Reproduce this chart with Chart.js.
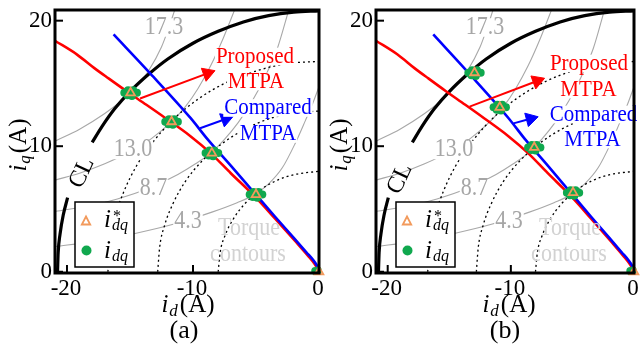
<!DOCTYPE html>
<html>
<head>
<meta charset="utf-8">
<script src="https://cdn.jsdelivr.net/npm/chart.js@4.4.0/dist/chart.umd.min.js"></script>
<style>
  html, body { margin: 0; padding: 0; background: #fff; }
  #wrap { position: relative; width: 643px; height: 346px; overflow: hidden; }
  #cA { position: absolute; left: 0; top: 0; }
  #cB { position: absolute; left: 321px; top: 0; }
</style>
</head>
<body>
<div id="wrap">
  <canvas id="cA" width="336" height="346" style="width:336px;height:346px"></canvas>
  <canvas id="cB" width="322" height="346" style="width:322px;height:346px"></canvas>
</div>
<script>
// tick sumbu
const xTicks = [-20, -10, 0];
const yTicks = [0, 10, 20];

// kurva yang sama di kedua panel, [id, iq] dalam A
const proposedMTPA = [[-20.95, 18.4], [-19.2, 17.3], [-17.8, 16.2], [-16.7, 15.4], [-15.3, 14.4], [-13.7, 13.3],
  [-12.2, 12.25], [-10.2, 10.8], [-8.6, 9.45], [-7, 7.85], [-5.1, 6.0], [-3.5, 4.25], [-1.9, 2.45],
  [-0.9, 1.3], [-0.3, 0.55], [0, 0]];
const comparedMTPA = [[-16.3, 18.9], [-13.4, 15.8], [-10.2, 12.25], [-8.8, 10.5], [-7, 8.45], [-5.1, 6.25],
  [-3.5, 4.4], [-2.0, 2.7], [-1.0, 1.55], [-0.4, 0.85], [-0.1, 0.35], [0, 0]];
// current limit (CL), ada celah untuk label
const currentLimit = [[-20.75, 0], [-20.7, 1.5], [-20.55, 3], [-20.3, 4.5], [-19.95, 5.9], [-19.0, null],
  [-18.0, 10.3], [-17.2, 11.6], [-16.2, 13.0], [-15.0, 14.35], [-13.5, 15.75], [-12.0, 16.95], [-10.0, 18.2],
  [-8.0, 19.15], [-6.0, 19.9], [-4.0, 20.4], [-2.0, 20.68], [0, 20.78]];
// lingkaran arus (titik-titik)
const circle1 = [[-16.75, 0], [-16.6, 2.2], [-16.2, 4.3], [-15.5, 6.35], [-14.5, 8.4], [-13.2, 10.3], [-11.6, 12.1],
  [-9.6, 13.75], [-7.3, 15.1], [-4.8, 16.05], [-2.4, 16.6], [0, 16.75]];
const circle2 = [[-12.8, 0], [-12.65, 1.9], [-12.25, 3.7], [-11.6, 5.4], [-10.6, 7.2], [-9.3, 8.8], [-7.7, 10.2],
  [-5.8, 11.4], [-3.9, 12.2], [-1.9, 12.65], [0, 12.8]];
const circle3 = [[-8, 0], [-7.85, 1.5], [-7.45, 2.9], [-6.8, 4.2], [-5.9, 5.4], [-4.75, 6.45], [-3.4, 7.25],
  [-1.9, 7.75], [0, 8.0]];
// kontur torsi 17.3 / 13.0 / 8.7 / 4.3
const torque173 = [[-20.95, 10.4], [-19, 11.35], [-17, 12.6], [-15.7, 13.6], [-15, 14.25], [-14.3, 15.0],
  [-13.5, 16.05], [-12.5, 17.9], [-11.9, 19.5], [-11.45, 20.85]];
const torque130 = [[-20.95, 7.3], [-19, 7.85], [-17, 8.6], [-15, 9.55], [-13.3, 10.6], [-11.7, 11.95],
  [-10.6, 13.15], [-9.6, 14.6], [-8.6, 16.4], [-7.6, 18.6], [-6.7, 20.85]];
const torque87 = [[-20.95, 4.8], [-18, 5.3], [-16, 5.8], [-13.5, 6.65], [-11.2, 7.75], [-9.8, 8.6], [-8.6, 9.45],
  [-7.5, 10.55], [-6.4, 11.9], [-5.3, 13.6], [-4.3, 15.5], [-3.3, 17.8], [-2.4, 20.85]];
const torque43 = [[-20.95, 2.0], [-18, 2.4], [-14.6, 3.05], [-11.5, 3.8], [-8.5, 4.75], [-6.5, 5.5], [-5.1, 6.15],
  [-4.0, 7.0], [-2.9, 8.3], [-1.9, 10.2], [-1.1, 12.0], [-0.5, 13.4], [-0.05, 14.6]];

// panel (a): referensi i*dq dan hasil ukur idq
const refA = [[-14.95, 14.25], [-11.7, 11.95], [-8.5, 9.45], [-5.0, 6.15], [0, 0]];
const measA = [[-15.45, 14.25], [-15.15, 14.45], [-14.75, 14.45], [-14.45, 14.25], [-14.85, 14.0], [-15.2, 14.05],
  [-12.2, 11.95], [-11.9, 12.15], [-11.5, 12.15], [-11.2, 11.95], [-11.6, 11.7], [-11.95, 11.75],
  [-9.0, 9.45], [-8.7, 9.65], [-8.3, 9.65], [-8.0, 9.45], [-8.4, 9.2], [-8.75, 9.25],
  [-5.5, 6.15], [-5.2, 6.35], [-4.8, 6.35], [-4.5, 6.15], [-4.9, 5.9], [-5.25, 5.95],
  [-0.3, 0.05], [-0.1, 0.1]];
const arrowPropA = [[-14.2, 13.8], [-8.85, 15.8]];
const arrowCompA = [[-9.44, 11.43], [-7.4, 12.17]];

// panel (b)
const refB = [[-12.95, 15.85], [-10.9, 13.1], [-8.1, 9.9], [-4.95, 6.3], [0, 0]];
const measB = [[-13.45, 15.85], [-13.15, 16.05], [-12.75, 16.05], [-12.45, 15.85], [-12.85, 15.6], [-13.2, 15.65],
  [-11.4, 13.1], [-11.1, 13.3], [-10.7, 13.3], [-10.4, 13.1], [-10.8, 12.85], [-11.15, 12.9],
  [-8.6, 9.9], [-8.3, 10.1], [-7.9, 10.1], [-7.6, 9.9], [-8.0, 9.65], [-8.35, 9.7],
  [-5.45, 6.3], [-5.15, 6.5], [-4.75, 6.5], [-4.45, 6.3], [-4.85, 6.05], [-5.2, 6.1],
  [-0.3, 0.05], [-0.1, 0.1]];
const arrowPropB = [[-13.35, 13.15], [-7.87, 15.19]];
const arrowCompB = [[-9.79, 11.82], [-8.41, 12.18]];

const FONT = "'Liberation Serif', 'Times New Roman', serif";
const RED = '#ff0000', BLUE = '#0000ff', GREEN = '#10a84e', ORANGE = '#f29a5c', GRAY = '#a8a8a8';

const pts = arr => arr.map(p => ({ x: p[0], y: p[1] }));

function lineSet(data, color, width, dash) {
  return { data: pts(data), showLine: true, borderColor: color, borderWidth: width, borderDash: dash || [],
    pointRadius: 0, cubicInterpolationMode: 'monotone', spanGaps: false };
}
function arrowSet(data, color, rot) {
  return { data: pts(data), showLine: true, borderColor: color, borderWidth: 2, clip: false,
    pointRadius: [0, 8], pointStyle: 'triangle', pointRotation: [0, rot],
    pointBackgroundColor: color, pointBorderColor: color, pointBorderWidth: 1 };
}

function txt(ctx, s, x, y, size, color, bg, sy) {
  ctx.save();
  ctx.font = size + 'px ' + FONT;
  ctx.textAlign = 'center';
  ctx.textBaseline = 'middle';
  if (bg) {
    const w = ctx.measureText(s).width;
    ctx.fillStyle = '#fff';
    ctx.fillRect(x - w / 2 - 1, y - size * 0.42, w + 2, size * 0.84);
  }
  ctx.translate(x, y);
  ctx.scale(1, sy || 1.12);
  ctx.fillStyle = color;
  ctx.fillText(s, 0, 0);
  ctx.restore();
}

// teks campuran (italic, subscript)
function runs(ctx, parts, x, y, align) {
  ctx.textBaseline = 'alphabetic';
  ctx.textAlign = 'left';
  let w = 0;
  parts.forEach(p => { ctx.font = (p[2] ? 'italic ' : '') + p[1] + 'px ' + FONT; w += ctx.measureText(p[0]).width + (p[4] || 0); });
  let cx = align === 'left' ? x : x - w / 2;
  parts.forEach(p => {
    ctx.font = (p[2] ? 'italic ' : '') + p[1] + 'px ' + FONT;
    ctx.fillText(p[0], cx, y + p[3]);
    cx += ctx.measureText(p[0]).width + (p[4] || 0);
  });
}

const decor = {
  id: 'decor',
  afterDatasetsDraw(chart, args, o) {
    const ctx = chart.ctx, a = chart.chartArea;
    const sx = chart.scales.x, sy = chart.scales.y;
    ctx.save();
    o.labels.forEach(l => txt(ctx, l.t, l.x, l.y, l.s, l.c, l.bg));

    // CL
    ctx.save();
    ctx.translate(o.cl[0], o.cl[1]);
    ctx.rotate(-65 * Math.PI / 180);
    ctx.font = '24px ' + FONT;
    ctx.fillStyle = '#000';
    ctx.textAlign = 'center';
    ctx.textBaseline = 'middle';
    ctx.fillText('CL', 0, 0);
    ctx.restore();

    // legend
    ctx.fillStyle = '#fff';
    ctx.fillRect(75, 202, 59, 65);
    ctx.lineWidth = 1.5;
    ctx.strokeStyle = '#000';
    ctx.strokeRect(75, 202, 59, 65);
    ctx.beginPath();
    ctx.moveTo(86, 216.5); ctx.lineTo(90.2, 224.5); ctx.lineTo(81.8, 224.5); ctx.closePath();
    ctx.strokeStyle = ORANGE; ctx.lineWidth = 1.8; ctx.stroke();
    ctx.beginPath(); ctx.arc(86.5, 250.5, 5, 0, Math.PI * 2); ctx.fillStyle = GREEN; ctx.fill();
    ctx.fillStyle = '#000';
    runs(ctx, [['i', 25, true, 0, 1], ['dq', 16, true, 3]], 104, 227, 'left');
    ctx.font = '16px ' + FONT;
    ctx.fillText('*', 113, 221);
    runs(ctx, [['i', 25, true, 0, 1], ['dq', 16, true, 3]], 104, 258, 'left');

    // bingkai
    ctx.lineWidth = 3;
    ctx.strokeStyle = '#000';
    ctx.strokeRect(a.left, a.top, a.right - a.left, a.bottom - a.top);

    // tick dan label tick
    ctx.lineWidth = 2;
    ctx.fillStyle = '#000';
    ctx.font = '23px ' + FONT;
    xTicks.forEach(v => {
      const px = sx.getPixelForValue(v);
      ctx.beginPath(); ctx.moveTo(px, a.bottom); ctx.lineTo(px, a.bottom - 8); ctx.stroke();
      ctx.textAlign = 'center'; ctx.textBaseline = 'middle';
      ctx.fillText(String(v), px - 1, 289);
    });
    yTicks.forEach(v => {
      const py = sy.getPixelForValue(v);
      ctx.beginPath(); ctx.moveTo(a.left, py); ctx.lineTo(a.left + 8, py); ctx.stroke();
      ctx.textAlign = 'right'; ctx.textBaseline = 'middle';
      ctx.fillText(String(v), 52, py);
    });

    // judul sumbu
    runs(ctx, [['i', 25, true, 0, 1], ['d', 17, true, 4, 2], ['(A)', 25, false, 0]], 188, 312);
    ctx.save();
    ctx.translate(26, 145);
    ctx.rotate(-Math.PI / 2);
    runs(ctx, [['i', 25, true, 0, 1], ['q', 17, true, 4, 2], ['(A)', 25, false, 0]], 0, 0);
    ctx.restore();
    ctx.font = '26px ' + FONT;
    ctx.textAlign = 'center'; ctx.textBaseline = 'alphabetic';
    ctx.fillText(o.tag, 184, 338);
    ctx.restore();
  }
};

const commonLabels = [
  { t: '17.3', x: 164, y: 27.5, s: 22, c: '#a6a6a6', bg: true },
  { t: '13.0', x: 133, y: 150, s: 22, c: '#a6a6a6', bg: true },
  { t: '8.7', x: 153.5, y: 188.5, s: 22, c: '#a6a6a6', bg: true },
  { t: '4.3', x: 188, y: 221.5, s: 22, c: '#a6a6a6', bg: true },
  { t: 'Torque', x: 249, y: 228.5, s: 22, c: '#d2d2d2', bg: false },
  { t: 'contours', x: 248, y: 255, s: 22, c: '#d2d2d2', bg: false }
];

function makeChart(id, p) {
  const datasets = [
    { data: pts(p.ref), pointStyle: 'triangle', pointRadius: 5, pointBorderWidth: 1.8,
      pointBorderColor: ORANGE, pointBackgroundColor: 'rgba(0,0,0,0)', clip: false },
    { data: pts(p.meas), pointStyle: 'circle', pointRadius: 4, pointBorderWidth: 0,
      pointBackgroundColor: GREEN, pointBorderColor: GREEN, clip: false },
    arrowSet(p.arrowProp, RED, p.rotProp),
    arrowSet(p.arrowComp, BLUE, p.rotComp),
    lineSet(comparedMTPA, BLUE, 2.6),
    lineSet(proposedMTPA, RED, 2.6),
    lineSet(currentLimit, '#000', 3.2),
    lineSet(circle1, '#000', 1.3, [2, 3]),
    lineSet(circle2, '#000', 1.3, [2, 3]),
    lineSet(circle3, '#000', 1.3, [2, 3]),
    lineSet(torque173, GRAY, 1.1),
    lineSet(torque130, GRAY, 1.1),
    lineSet(torque87, GRAY, 1.1),
    lineSet(torque43, GRAY, 1.1)
  ];
  const canvas = document.getElementById(id);
  return new Chart(canvas.getContext('2d'), {
    type: 'scatter',
    data: { datasets },
    options: {
      responsive: false,
      animation: false,
      devicePixelRatio: 1,
      layout: { padding: { left: 55, top: 10, right: canvas.width - 319, bottom: 73 } },
      scales: {
        x: { type: 'linear', min: -20.95, max: 0, display: false },
        y: { type: 'linear', min: -0.1, max: 20.85, display: false }
      },
      plugins: {
        legend: { display: false },
        tooltip: { enabled: false },
        decor: { labels: commonLabels.concat(p.labels), cl: p.cl, tag: p.tag }
      }
    },
    plugins: [decor]
  });
}

makeChart('cA', {
  ref: refA, meas: measA, arrowProp: arrowPropA, arrowComp: arrowCompA, rotProp: 70, rotComp: 70.5,
  cl: [82, 173], tag: '(a)',
  labels: [
    { t: 'Proposed', x: 255, y: 56.5, s: 21, c: RED, bg: true },
    { t: 'MTPA', x: 256, y: 81.5, s: 21, c: RED, bg: true },
    { t: 'Compared', x: 268, y: 108, s: 21, c: BLUE, bg: true },
    { t: 'MTPA', x: 268, y: 134, s: 21, c: BLUE, bg: true }
  ]
});
makeChart('cB', {
  ref: refB, meas: measB, arrowProp: arrowPropB, arrowComp: arrowCompB, rotProp: 69.6, rotComp: 75,
  cl: [79, 179], tag: '(b)',
  labels: [
    { t: 'Proposed', x: 268, y: 63.5, s: 21, c: RED, bg: true },
    { t: 'MTPA', x: 267.5, y: 89.5, s: 21, c: RED, bg: true },
    { t: 'Compared', x: 272.5, y: 114.5, s: 21, c: BLUE, bg: true },
    { t: 'MTPA', x: 271.5, y: 139.5, s: 21, c: BLUE, bg: true }
  ]
});
</script>
</body>
</html>
